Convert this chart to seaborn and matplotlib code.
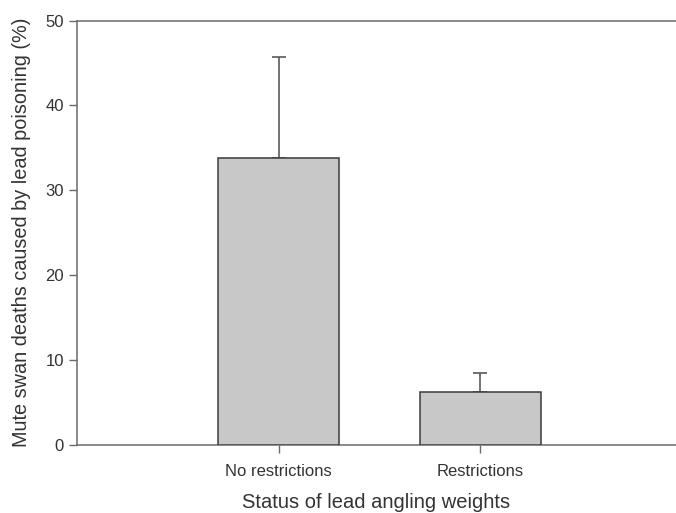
import matplotlib
matplotlib.use("Agg")
import matplotlib.pyplot as plt
import seaborn as sns
import numpy as np

categories = ["No restrictions", "Restrictions"]
values = [33.8, 6.2]
err_upper = [11.9, 2.2]
y_ticks = [0, 10, 20, 30, 40, 50]

sns.set_theme(style="white")
plt.rcParams['font.family'] = ['Liberation Sans', 'DejaVu Sans']

fig = plt.figure(figsize=(6.76, 5.13), dpi=100)
ax = fig.add_axes([0.114, 0.1335, 0.886, 0.8265])

sns.barplot(x=categories, y=values, color="#c8c8c8", saturation=1, width=0.6,
            edgecolor="#3c3c3c", linewidth=1.1, errorbar=None, ax=ax, zorder=3)

ax.errorbar(np.arange(len(categories)), values,
            yerr=[np.zeros(len(values)), err_upper],
            fmt="none", ecolor="#5a5a5a", elinewidth=1.2, capsize=4.7,
            capthick=1.2, zorder=1)

ax.set_xlim(-1.0, 1.97)
ax.set_ylim(0, 50)
ax.set_yticks(y_ticks)

for side in ["left", "bottom", "top"]:
    ax.spines[side].set_visible(True)
    ax.spines[side].set_color("#6a6a6a")
    ax.spines[side].set_linewidth(1.1)
ax.spines["right"].set_visible(False)

ax.tick_params(axis="both", which="major", direction="out", length=6,
               width=1.0, color="#6a6a6a", labelsize=12, labelcolor="#333333",
               left=True, bottom=True)
ax.tick_params(axis="x", pad=8)

ax.set_xlabel("Status of lead angling weights", fontsize=14.5, color="#333333", labelpad=10)
ax.set_ylabel("Mute swan deaths caused by lead poisoning (%)", fontsize=14.3, color="#333333", labelpad=10)

fig.savefig("out.png", dpi=100, facecolor="white")
